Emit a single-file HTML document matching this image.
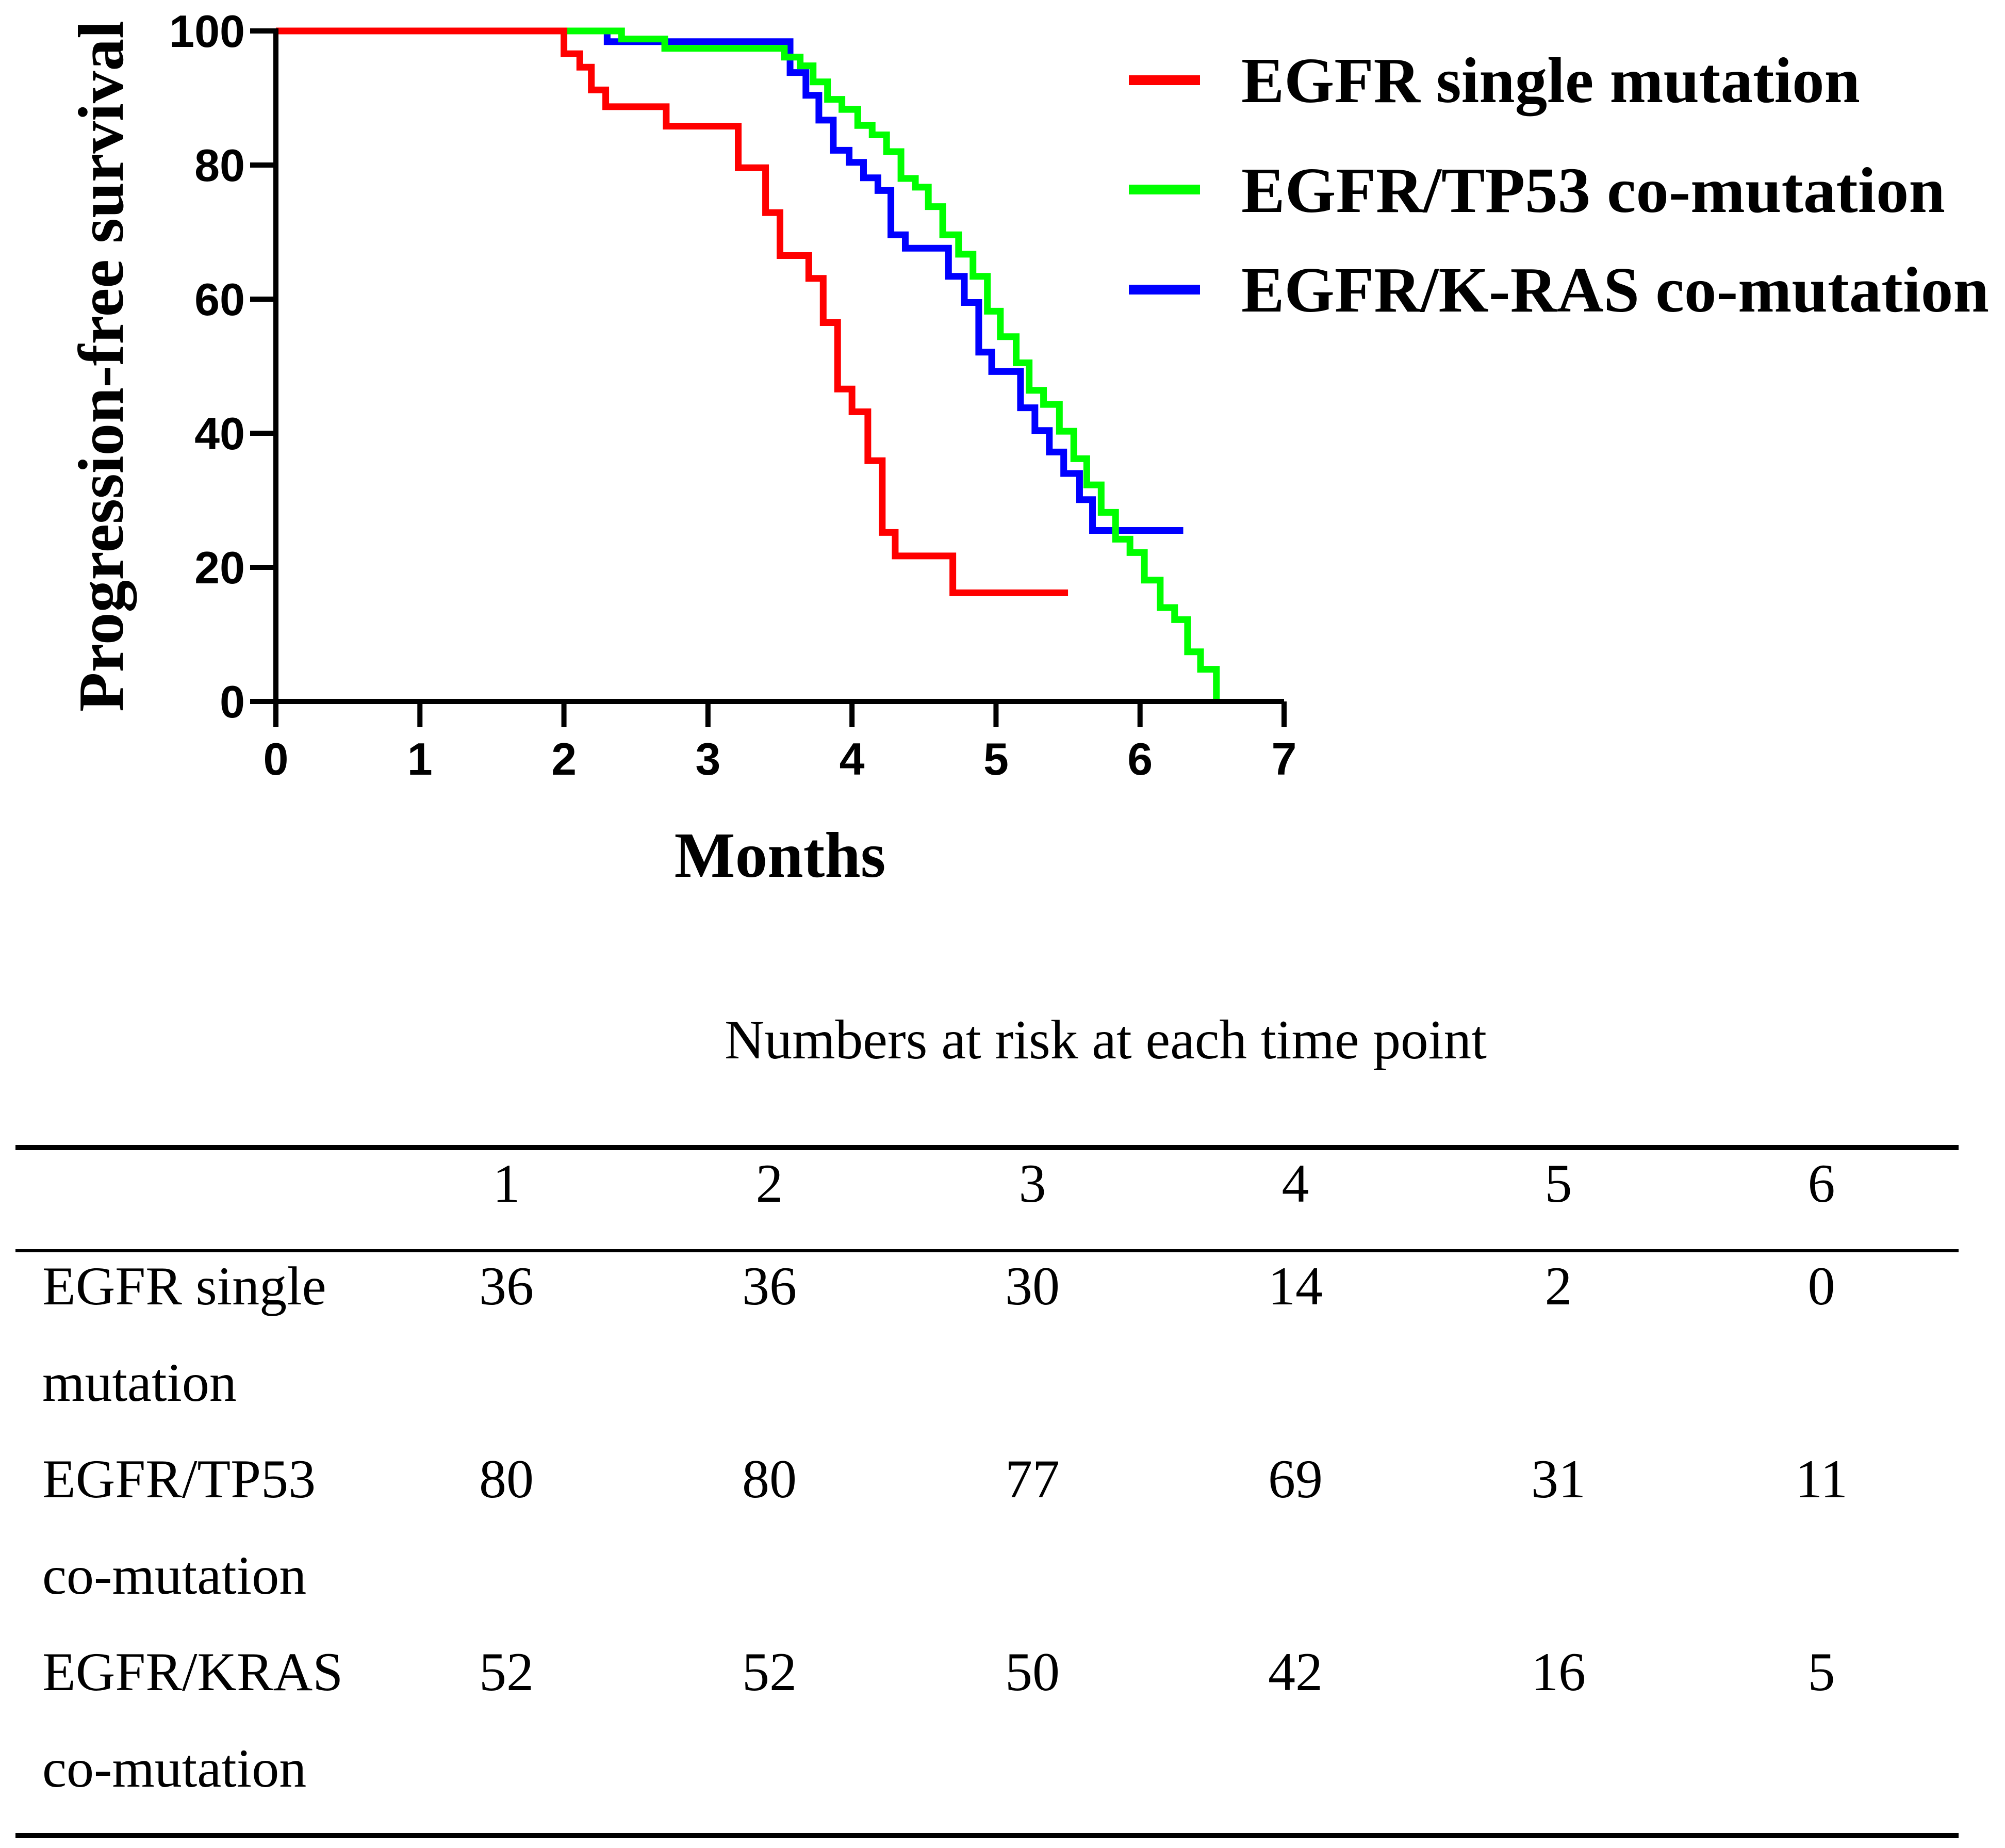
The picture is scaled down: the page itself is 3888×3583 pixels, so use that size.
<!DOCTYPE html>
<html><head><meta charset="utf-8"><style>
html,body{margin:0;padding:0;background:#fff;}
svg{display:block;}
</style></head><body>
<svg id="chart" width="3888" height="3583" viewBox="0 0 3888 3583" xmlns="http://www.w3.org/2000/svg">
<g id="plot"></g>
<g id="legend">
  <g>
    <rect x="2189" y="146" width="138" height="19" fill="#ff0000"/>
    <text x="2407" y="198" font-family="Liberation Serif, serif" font-weight="bold" font-size="125" textLength="1200" lengthAdjust="spacingAndGlyphs">EGFR single mutation</text>
  </g>
  <g>
    <rect x="2189" y="358" width="138" height="19" fill="#00ff00"/>
    <text x="2407" y="411" font-family="Liberation Serif, serif" font-weight="bold" font-size="125" textLength="1365" lengthAdjust="spacingAndGlyphs">EGFR/TP53 co-mutation</text>
  </g>
  <g>
    <rect x="2189" y="552" width="138" height="19" fill="#0000ff"/>
    <text x="2407" y="604" font-family="Liberation Serif, serif" font-weight="bold" font-size="125" textLength="1450" lengthAdjust="spacingAndGlyphs">EGFR/K-RAS co-mutation</text>
  </g>
</g>
<g id="table" font-family="Liberation Serif, serif" font-size="106">
  <text x="1405" y="2052" font-size="108" textLength="1478" lengthAdjust="spacingAndGlyphs">Numbers at risk at each time point</text>
  <rect x="30" y="2220" width="3768" height="10" fill="#000"/>
  <rect x="30" y="2422" width="3768" height="6" fill="#000"/>
  <rect x="30" y="3554" width="3768" height="10" fill="#000"/>
  <g id="tcells"></g>
</g>
</svg>
<script>
const xTicks = [0,1,2,3,4,5,6,7];
const yTicks = [0,20,40,60,80,100];
const redT = [0,2.0,2.11,2.19,2.29,2.71,3.21,3.4,3.5,3.7,3.8,3.9,4.0,4.11,4.21,4.3,4.7,5.5];
const redS = [100,96.6,94.6,91.2,88.7,85.8,79.6,72.9,66.5,63.1,56.5,46.6,43.2,35.9,25.2,21.7,16.2,16.2];
const greenT = [0,2.4,2.7,3.53,3.64,3.73,3.83,3.93,4.04,4.14,4.24,4.34,4.44,4.53,4.63,4.74,4.84,4.94,5.03,5.14,5.23,5.33,5.44,5.54,5.63,5.73,5.83,5.93,6.03,6.14,6.24,6.33,6.42,6.53];
const greenS = [100,98.8,97.4,96.1,94.8,92.4,89.8,88.3,85.9,84.5,82,78,76.7,73.8,69.6,66.7,63.4,58.2,54.4,50.5,46.4,44.3,40.3,36.2,32.3,28.2,24.2,22.2,18.1,14,12.2,7.4,4.8,0];
const blueT = [0,2.3,3.57,3.68,3.77,3.87,3.98,4.08,4.18,4.27,4.37,4.67,4.78,4.88,4.97,5.17,5.27,5.37,5.47,5.58,5.67,6.3];
const blueS = [100,98.4,93.8,90.4,86.7,82.2,80.4,78.1,76.2,69.6,67.6,63.4,59.5,52.1,49.2,43.8,40.4,37.2,34,30.1,25.5,25.5];
const groups = ["EGFR single|mutation","EGFR/TP53|co-mutation","EGFR/KRAS|co-mutation"];
const timePoints = ["1","2","3","4","5","6"];
const riskSingle = [36,36,30,14,2,0];
const riskTP53 = [80,80,77,69,31,11];
const riskKRAS = [52,52,50,42,16,5];

const NS='http://www.w3.org/2000/svg';
const X0=535,X1=2490,Y0=1360,Y1=60;
const sx=t=>X0+(t-0)/(7-0)*(X1-X0);
const sy=v=>Y0-(v/100)*(Y0-Y1);
const plot=document.getElementById('plot');
function mk(tag,attrs,parent){const e=document.createElementNS(NS,tag);for(const k in attrs)e.setAttribute(k,attrs[k]);parent.appendChild(e);return e;}

function stepPath(T,S){
  let d='M'+sx(T[0])+','+sy(S[0]);
  for(let i=1;i<T.length;i++){d+=' H'+sx(T[i])+' V'+sy(S[i]);}
  return d;
}
function curve(T,S,color,name){
  const p=mk('path',{d:stepPath(T,S),fill:'none',stroke:color,'stroke-width':13,'stroke-linejoin':'miter','stroke-linecap':'butt'},plot);
  
  
}
curve(blueT,blueS,'#0000ff','curve-egfr-kras');
curve(greenT,greenS,'#00ff00','curve-egfr-tp53');
curve(redT,redS,'#ff0000','curve-egfr-single');

// axes
const ax=mk('path',{d:`M${X0},${Y1-5} V${Y0} H${X1}`,fill:'none',stroke:'#000','stroke-width':10},plot);


xTicks.forEach(t=>{
  const l=mk('line',{x1:sx(t),x2:sx(t),y1:Y0,y2:Y0+50,stroke:'#000','stroke-width':10},plot);
  
  
  const tx=mk('text',{x:sx(t),y:Y0+142,'text-anchor':'middle','font-family':'Liberation Sans, sans-serif','font-weight':'bold','font-size':88},plot);
  
  
  tx.textContent=String(t);
});
yTicks.forEach(v=>{
  const l=mk('line',{x1:X0-50,x2:X0,y1:sy(v),y2:sy(v),stroke:'#000','stroke-width':10},plot);
  
  
  const tx=mk('text',{x:X0-60,y:sy(v)+31,'text-anchor':'end','font-family':'Liberation Sans, sans-serif','font-weight':'bold','font-size':88},plot);
  
  
  tx.textContent=String(v);
});
const xt=mk('text',{x:(X0+X1)/2,y:1700,'text-anchor':'middle','font-family':'Liberation Serif, serif','font-weight':'bold','font-size':125},plot);


xt.textContent='Months';
const yt=mk('text',{x:0,y:0,'text-anchor':'middle','font-family':'Liberation Serif, serif','font-weight':'bold','font-size':125,transform:'translate(238,710) rotate(-90)',textLength:1340,lengthAdjust:'spacingAndGlyphs'},plot);


yt.textContent='Progression-free survival';

// table
const tc=document.getElementById('tcells');
const colX=[982,1492,2002,2512,3022,3532];
timePoints.forEach((s,i)=>{
  const t=mk('text',{x:colX[i],y:2330,'text-anchor':'middle'},tc);
  
  
  t.textContent=s;
});
const rows=[riskSingle,riskTP53,riskKRAS];
const rowY=[2529,2903,3277];
rows.forEach((r,ri)=>{
  const parts=groups[ri].split('|');
  parts.forEach((p,pi)=>{
    const t=mk('text',{x:82,y:rowY[ri]+pi*187},tc);
    
    
    t.textContent=p;
  });
  r.forEach((v,i)=>{
    const t=mk('text',{x:colX[i],y:rowY[ri],'text-anchor':'middle'},tc);
    
    
    t.textContent=String(v);
  });
});
</script>
</body></html>
